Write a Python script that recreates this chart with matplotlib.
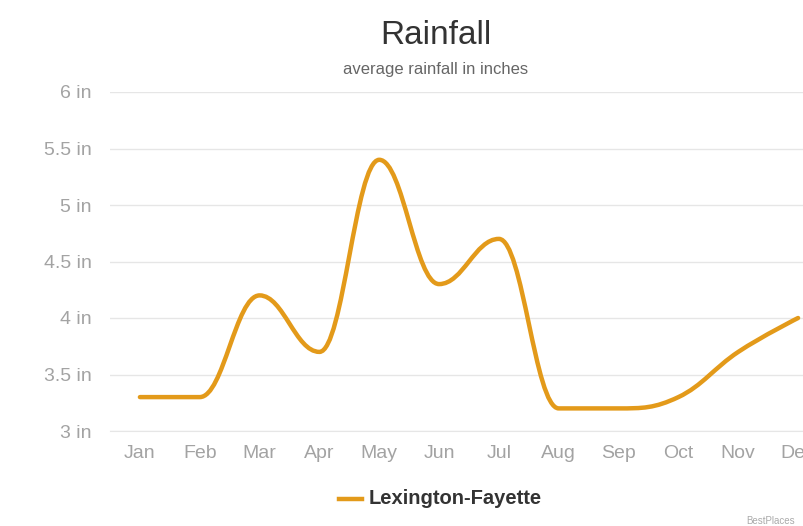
import matplotlib
matplotlib.use("Agg")
import matplotlib.pyplot as plt
from matplotlib.path import Path
from matplotlib.patches import PathPatch
from matplotlib.lines import Line2D
import numpy as np

months = ["Jan", "Feb", "Mar", "Apr", "May", "Jun",
          "Jul", "Aug", "Sep", "Oct", "Nov", "Dec"]
rain = [3.3, 3.3, 4.2, 3.7, 5.4, 4.3, 4.7, 3.2, 3.2, 3.3, 3.7, 4.0]
yticks = [3, 3.5, 4, 4.5, 5, 5.5, 6]
ylabels = ["3 in", "3.5 in", "4 in", "4.5 in", "5 in", "5.5 in", "6 in"]
series_name = "Lexington-Fayette"

line_col = "#e39a1a"
plt.rcParams['font.family'] = ['Liberation Sans', 'DejaVu Sans']


def spline_path(xs, ys, smoothing=1.5):
    # highcharts-style spline: cubic bezier with tangents from neighbours
    n = len(xs)
    left = [None] * n
    right = [None] * n
    denom = smoothing + 1
    for i in range(1, n - 1):
        px, py = xs[i], ys[i]
        lx, ly = xs[i - 1], ys[i - 1]
        nx, ny = xs[i + 1], ys[i + 1]
        lcx = (smoothing * px + lx) / denom
        lcy = (smoothing * py + ly) / denom
        rcx = (smoothing * px + nx) / denom
        rcy = (smoothing * py + ny) / denom
        corr = (rcy - lcy) * (rcx - px) / (rcx - lcx) + py - rcy
        lcy += corr
        rcy += corr
        if lcy > ly and lcy > py:
            lcy = max(ly, py)
            rcy = 2 * py - lcy
        elif lcy < ly and lcy < py:
            lcy = min(ly, py)
            rcy = 2 * py - lcy
        if rcy > ny and rcy > py:
            rcy = max(ny, py)
            lcy = 2 * py - rcy
        elif rcy < ny and rcy < py:
            rcy = min(ny, py)
            lcy = 2 * py - rcy
        left[i] = (lcx, lcy)
        right[i] = (rcx, rcy)
    verts = [(xs[0], ys[0])]
    codes = [Path.MOVETO]
    for i in range(1, n):
        c1 = right[i - 1] if right[i - 1] else (xs[i - 1], ys[i - 1])
        c2 = left[i] if left[i] else (xs[i], ys[i])
        verts += [c1, c2, (xs[i], ys[i])]
        codes += [Path.CURVE4] * 3
    return Path(verts, codes)


W, H = 804, 526
fig = plt.figure(figsize=(W / 100, H / 100), dpi=100)
fig.patch.set_facecolor("white")

# plot area runs past the right edge (cropped like the source)
left_px, right_px = 110, 828
top_px, bot_px = 92, 431
ax = fig.add_axes([left_px / W, 1 - bot_px / H,
                   (right_px - left_px) / W, (bot_px - top_px) / H])
ax.set_facecolor("white")

x = np.arange(len(months))
ax.add_patch(PathPatch(spline_path(list(x), rain), fill=False,
                       edgecolor=line_col, lw=3.2, capstyle="round",
                       joinstyle="round", zorder=3))

ax.set_xlim(-0.5, len(months) - 0.5)
ax.set_ylim(3, 6)
ax.set_yticks(yticks)
ax.set_yticklabels(ylabels)
ax.set_xticks(x)
ax.set_xticklabels(months)
ax.grid(axis="y", color="#e6e6e6", lw=1)
ax.set_axisbelow(True)
for s in ax.spines.values():
    s.set_visible(False)
ax.spines["bottom"].set_visible(True)
ax.spines["bottom"].set_color("#e6e6e6")
ax.tick_params(axis="both", length=0, labelsize=14, colors="#a3a3a3")
ax.tick_params(axis="x", pad=10)
ax.tick_params(axis="y", pad=13)

fig.text(436 / W, 1 - 35 / H, "Rainfall", ha="center", va="center",
         fontsize=24, color="#333333")
fig.text(436 / W, 1 - 69 / H, "average rainfall in inches", ha="center",
         va="center", fontsize=12, color="#666666")

# legend
fig.add_artist(Line2D([339 / W, 362 / W], [1 - 499 / H, 1 - 499 / H],
                      color=line_col, lw=3.2))
fig.text(369 / W, 1 - 499 / H, series_name, ha="left", va="center",
         fontsize=14.5, fontweight="bold", color="#333333")

fig.text(746 / W, 1 - 521 / H, "BestPlaces", ha="left", va="center",
         fontsize=7, color="#aaaaaa")

fig.savefig("out.png", dpi=100, facecolor="white")
